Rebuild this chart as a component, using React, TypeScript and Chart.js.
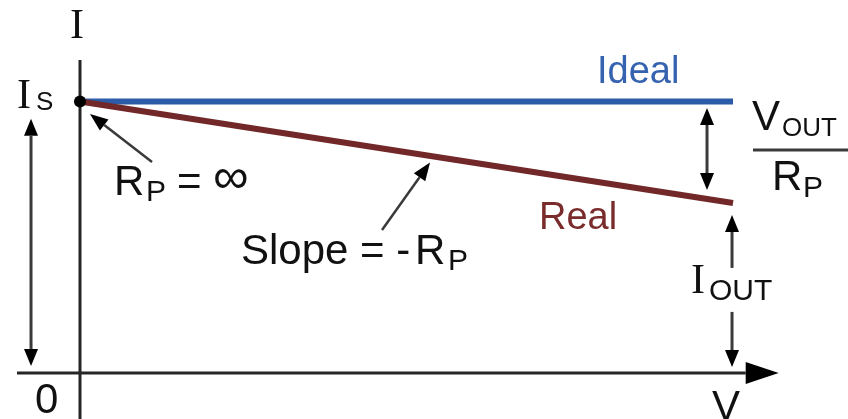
import React, { useEffect, useRef } from "react";
import { Chart, registerables } from "chart.js";

Chart.register(...registerables);

// ---- data (V in arbitrary units, I normalised so that Is = 1) ----
const idealV = [0, 10];
const idealI = [1, 1];
const realV = [0, 10];
const realI = [1, 0.626];
const isPoint = { v: 0, i: 1 };

// ---- scale ranges ----
const X_MIN = -1.225;
const X_MAX = 11.761;
const Y_MIN = -0.1694;
const Y_MAX = 1.3738;

const SANS = '"Liberation Sans", Arial, sans-serif';
const SERIF = '"Liberation Serif", "Times New Roman", serif';

// text labels: [text, v, i, fontSize, family, colour]
const labels: [string, number, number, number, string, string][] = [
  ["I", -0.153, 1.234, 42, SERIF, "#111"],
  ["I", -0.965, 0.976, 42, SERIF, "#111"],
  ["S", -0.674, 0.969, 26, SANS, "#111"],
  ["Ideal", 7.917, 1.068, 38, SANS, "#3563b0"],
  ["V", 10.291, 0.895, 42, SANS, "#111"],
  ["OUT", 10.75, 0.873, 26, SANS, "#111"],
  ["R", 10.597, 0.674, 42, SANS, "#111"],
  ["P", 11.072, 0.648, 30, SANS, "#111"],
  ["R", 0.521, 0.656, 42, SANS, "#111"],
  ["P", 1.011, 0.634, 30, SANS, "#111"],
  ["=", 1.485, 0.656, 42, SANS, "#111"],
  ["∞", 2.037, 0.663, 50, SANS, "#111"],
  ["Slope = -", 2.466, 0.401, 42, SANS, "#111"],
  ["R", 5.13, 0.401, 42, SANS, "#111"],
  ["P", 5.636, 0.379, 30, SANS, "#111"],
  ["Real", 7.029, 0.53, 38, SANS, "#7a2b2b"],
  ["I", 9.357, 0.295, 42, SERIF, "#111"],
  ["OUT", 9.632, 0.269, 30, SANS, "#111"],
  ["V", 9.678, -0.173, 42, SANS, "#111"],
  ["0", -0.689, -0.147, 42, SANS, "#111"],
];

// arrows: [v1, i1, v2, i2, doubleHeaded, lineWidth, headLen, headHalfWidth]
const arrows: [number, number, number, number, boolean, number, number, number][] = [
  [-0.75, 0.026, -0.75, 0.936, true, 3, 17, 7],
  [9.602, 0.674, 9.602, 0.976, true, 3, 17, 7],
  [9.985, 0.387, 9.985, 0.582, false, 3, 17, 7],
  [9.985, 0.225, 9.985, 0.022, false, 3, 17, 7],
  [1.103, 0.777, 0.153, 0.954, false, 2.5, 18, 7],
  [4.625, 0.527, 5.36, 0.775, false, 2.5, 18, 7],
];

// fraction bar under V_OUT
const fracBar = { v1: 10.306, v2: 11.761, i: 0.821 };
// axes extents
const xAxis = { from: -0.965, tip: 10.7 };
const yAxis = { top: 1.153 };

function head(ctx: CanvasRenderingContext2D, x1: number, y1: number, x2: number, y2: number, len: number, hw: number) {
  const a = Math.atan2(y2 - y1, x2 - x1);
  const bx = x2 - Math.cos(a) * len;
  const by = y2 - Math.sin(a) * len;
  ctx.beginPath();
  ctx.moveTo(x2, y2);
  ctx.lineTo(bx + Math.sin(a) * hw, by - Math.cos(a) * hw);
  ctx.lineTo(bx - Math.sin(a) * hw, by + Math.cos(a) * hw);
  ctx.closePath();
  ctx.fill();
  return [bx, by];
}

function arrow(ctx: CanvasRenderingContext2D, x1: number, y1: number, x2: number, y2: number, dbl: boolean, lw: number, len: number, hw: number, color: string) {
  ctx.save();
  ctx.strokeStyle = color;
  ctx.fillStyle = "#000";
  ctx.lineWidth = lw;
  const [bx, by] = head(ctx, x1, y1, x2, y2, len, hw);
  let sx = x1, sy = y1;
  if (dbl) {
    const r = head(ctx, x2, y2, x1, y1, len, hw);
    sx = r[0]; sy = r[1];
  }
  ctx.beginPath();
  ctx.moveTo(sx, sy);
  ctx.lineTo(bx, by);
  ctx.stroke();
  ctx.restore();
}

const diagramPlugin = {
  id: "diagram",
  beforeDatasetsDraw(chart: any) {
    const { ctx, scales } = chart;
    const X = (v: number) => scales.x.getPixelForValue(v);
    const Y = (i: number) => scales.y.getPixelForValue(i);
    ctx.save();
    ctx.strokeStyle = "#262626";
    ctx.lineWidth = 3;
    // y axis
    ctx.beginPath();
    ctx.moveTo(X(0), Y(yAxis.top));
    ctx.lineTo(X(0), chart.height);
    ctx.stroke();
    ctx.restore();
    // x axis with arrow
    arrow(ctx, X(xAxis.from), Y(0), X(xAxis.tip), Y(0), false, 3, 33, 11, "#262626");
  },
  afterDatasetsDraw(chart: any) {
    const { ctx, scales } = chart;
    const X = (v: number) => scales.x.getPixelForValue(v);
    const Y = (i: number) => scales.y.getPixelForValue(i);
    for (const a of arrows) {
      arrow(ctx, X(a[0]), Y(a[1]), X(a[2]), Y(a[3]), a[4], a[5], a[6], a[7], "#3a3a3a");
    }
    ctx.save();
    ctx.strokeStyle = "#3a3a3a";
    ctx.lineWidth = 3;
    ctx.beginPath();
    ctx.moveTo(X(fracBar.v1), Y(fracBar.i));
    ctx.lineTo(X(fracBar.v2), Y(fracBar.i));
    ctx.stroke();
    ctx.textAlign = "left";
    ctx.textBaseline = "alphabetic";
    for (const [t, v, i, size, fam, col] of labels) {
      ctx.font = `${size}px ${fam}`;
      ctx.fillStyle = col;
      ctx.fillText(t, X(v), Y(i));
    }
    ctx.restore();
  },
};

export default function App() {
  const ref = useRef<HTMLCanvasElement | null>(null);
  useEffect(() => {
    document.body.style.margin = "0";
    const canvas = ref.current;
    if (!canvas) return;
    const chart = new Chart(canvas, {
      type: "scatter",
      data: {
        datasets: [
          {
            label: "Ideal",
            data: idealV.map((v, k) => ({ x: v, y: idealI[k] })),
            showLine: true,
            borderColor: "#2c5ca8",
            borderWidth: 6,
            pointRadius: 0,
            order: 3,
          },
          {
            label: "Real",
            data: realV.map((v, k) => ({ x: v, y: realI[k] })),
            showLine: true,
            borderColor: "#722828",
            borderWidth: 6,
            pointRadius: 0,
            order: 2,
          },
          {
            label: "Is",
            data: [{ x: isPoint.v, y: isPoint.i }],
            pointRadius: 6,
            pointBackgroundColor: "#000",
            pointBorderColor: "#000",
            pointBorderWidth: 0,
            order: 1,
          },
        ],
      },
      options: {
        responsive: false,
        animation: false,
        layout: { padding: 0, autoPadding: false },
        plugins: { legend: { display: false }, tooltip: { enabled: false } },
        scales: {
          x: { type: "linear", min: X_MIN, max: X_MAX, display: false },
          y: { type: "linear", min: Y_MIN, max: Y_MAX, display: false },
        },
      },
      plugins: [diagramPlugin],
    });
    return () => chart.destroy();
  }, []);
  return <canvas ref={ref} width={848} height={419} style={{ display: "block" }} />;
}
